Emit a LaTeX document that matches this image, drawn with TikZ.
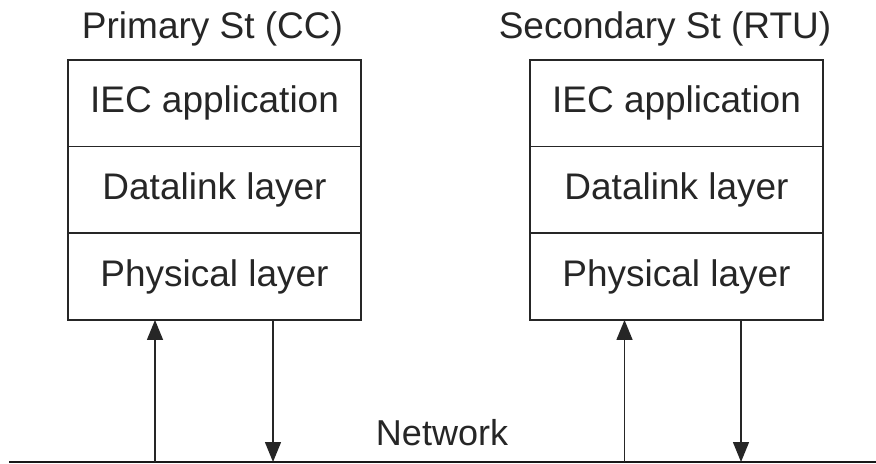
\documentclass[tikz,border=0pt]{standalone}
\usepackage{fontspec}
\setmainfont{Liberation Sans}
\usepackage{tikz}
\usetikzlibrary{positioning, arrows.meta}
\tikzstyle{arrow} = [line width=0.7pt, draw=black!85, -{Triangle[width=8pt,length=10pt]}]

\begin{document}
\begin{tikzpicture}[
				x=0.5pt, y=-0.5pt,
				font=\fontsize{18.5}{22}\selectfont,
				text=black!85,
				layer/.style={draw=black!85, line width=0.8pt, minimum width=146.5pt, minimum height=43.33pt, inner sep=0pt, outer sep=0pt, align=center},
				title/.style={anchor=base, inner sep=0pt}
				]
				\useasboundingbox (0,0) rectangle (876,464);
				
				% primary station
				\node (titleL) at (212.5,39) [title] {Primary St (CC)};
				\node (appL) at (214.5,103.3) [layer] {IEC application};
				\node (dlL) [layer, below=0pt of appL] {Datalink layer};
				\node (phyL) [layer, below=0pt of dlL] {Physical layer};
				
				% secondary station
				\node (titleR) at (665,39) [title] {Secondary St (RTU)};
				\node (appR) at (676.5,103.3) [layer] {IEC application};
				\node (dlR) [layer, below=0pt of appR] {Datalink layer};
				\node (phyR) [layer, below=0pt of dlR] {Physical layer};
				
				% network
				\coordinate (netW) at (9,462);
				\coordinate (netE) at (876,462);
				\node (net) at (442,445) [title, font=\fontsize{18}{21.6}\selectfont] {Network};
				\draw[line width=1.1pt, draw=black!90] (netW) -- (netE);
				
				\coordinate (upL) at (155,462);
				\coordinate (downL) at (273,462);
				\coordinate (upR) at (624.5,462);
				\coordinate (downR) at (741,462);
				\draw[arrow] (upL) -- (upL |- phyL.south);
				\draw[arrow] (downL |- phyL.south) -- (downL);
				\draw[arrow] (upR) -- (upR |- phyR.south);
				\draw[arrow] (downR |- phyR.south) -- (downR);
			\end{tikzpicture}
\end{document}
